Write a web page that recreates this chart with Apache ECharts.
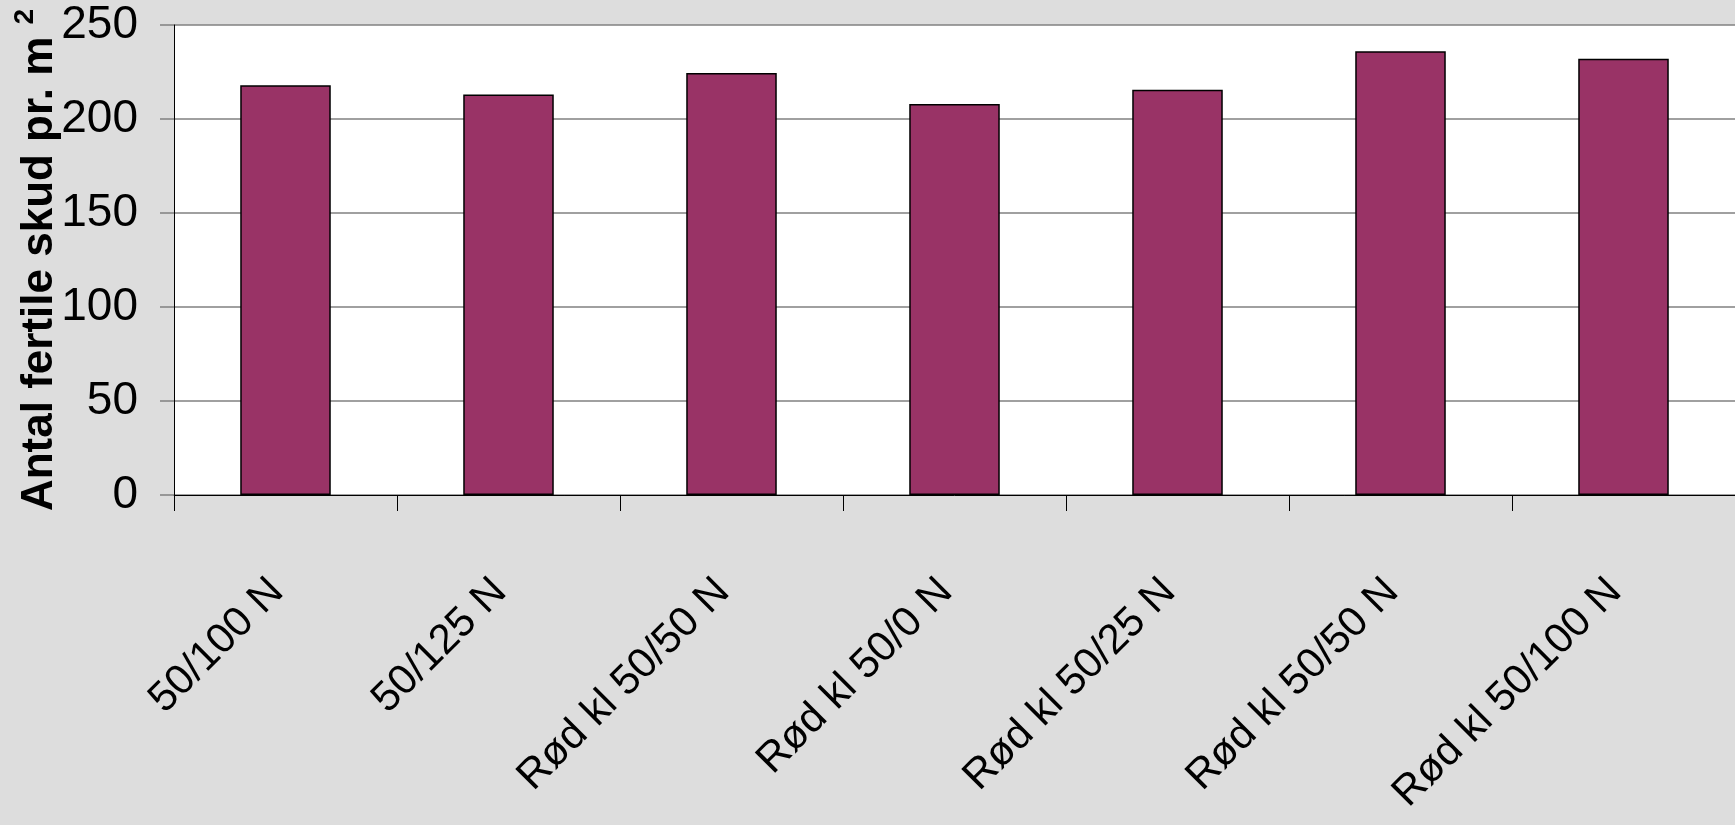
<!DOCTYPE html>
<html><head><meta charset="utf-8">
<script src="https://cdn.jsdelivr.net/npm/echarts@6/dist/echarts.min.js"></script>
<style>html,body{margin:0;padding:0;background:#dddddd;}#c{width:1735px;height:825px;}</style>
</head><body><div id="c"></div>
<script>
const categories = ["50/100 N", "50/125 N", "Rød kl 50/50 N", "Rød kl 50/0 N", "Rød kl 50/25 N", "Rød kl 50/50 N", "Rød kl 50/100 N"];
const values = [218, 213, 224.5, 208, 215.5, 236, 232];
const yTicks = [0, 50, 100, 150, 200, 250];

const font = '"Liberation Sans", Arial, sans-serif';

const chart = echarts.init(document.getElementById('c'));
chart.setOption({
  backgroundColor: '#dddddd',
  animation: false,
  grid: { left: 174, top: 25, right: -9, bottom: 330, show: true, backgroundColor: '#ffffff', borderWidth: 0 },
  xAxis: {
    type: 'category', data: categories,
    axisLine: { lineStyle: { color: '#000', width: 1 } },
    axisTick: { show: true, length: 16, inside: false, lineStyle: { color: '#000' } },
    axisLabel: { rotate: 45, margin: 82, padding: [0, 12, 0, 0], fontSize: 42, color: '#000', fontFamily: font, interval: 0 }
  },
  yAxis: {
    type: 'value', min: yTicks[0], max: yTicks[yTicks.length - 1], interval: 50,
    name: '{a|Antal fertile skud pr. m }{s|2}',
    nameLocation: 'middle', nameGap: 112, nameRotate: 90, nameMoveOverlap: false,
    nameTruncate: { maxWidth: 2000 },
    nameTextStyle: {
      width: 2000, overflow: 'none',
      rich: {
        a: { fontSize: 44, fontWeight: 'bold', color: '#000', fontFamily: font, verticalAlign: 'bottom' },
        s: { fontSize: 28, fontWeight: 'bold', color: '#000', fontFamily: font, verticalAlign: 'bottom', padding: [0, 0, 23, 0] }
      }
    },
    axisLine: { show: true, lineStyle: { color: '#000', width: 1 } },
    axisTick: { show: true, length: 14, lineStyle: { color: '#808080', width: 1.5 } },
    axisLabel: { fontSize: 46, color: '#000', margin: 36, fontFamily: font },
    splitLine: { show: true, lineStyle: { color: '#808080', width: 1.5 } }
  },
  series: [{
    type: 'bar', data: values, barWidth: '40.6%',
    itemStyle: { color: '#993366', borderColor: '#000', borderWidth: 1.5 }
  }]
});
</script></body></html>
